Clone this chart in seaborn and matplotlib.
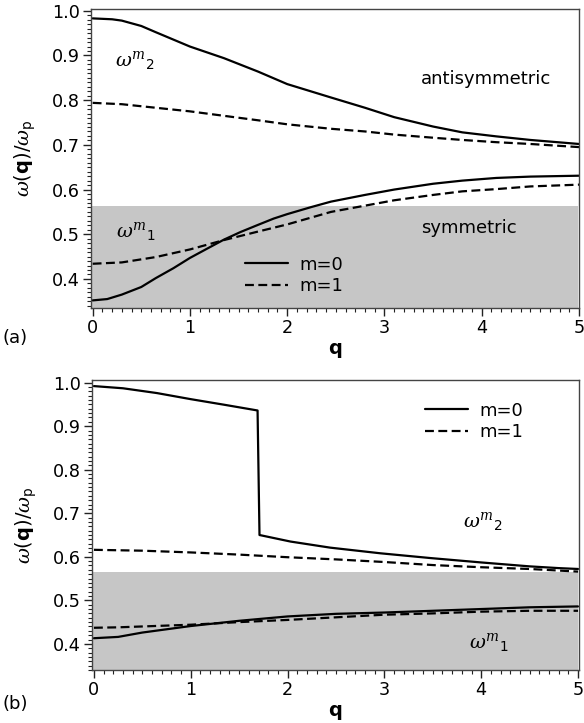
import numpy as np
import pandas as pd
import matplotlib
matplotlib.use("Agg")
import matplotlib.pyplot as plt
from matplotlib.ticker import MultipleLocator
from matplotlib.lines import Line2D
import seaborn as sns

# ---------------- data ----------------
# panel (a)
qa_u0 = [0.0, 0.2, 0.3, 0.5, 0.65, 1.0, 1.35, 1.7, 2.0, 2.45, 2.8, 3.1, 3.5, 3.8, 4.15, 4.5, 5.0]
a_upper_m0 = [0.983, 0.981, 0.978, 0.966, 0.952, 0.920, 0.894, 0.864, 0.836, 0.806, 0.783, 0.762, 0.741, 0.728, 0.719, 0.711, 0.702]
qa_u1 = [0.0, 0.3, 0.65, 1.0, 1.35, 1.7, 2.0, 2.45, 2.8, 3.1, 3.5, 3.8, 4.15, 4.5, 5.0]
a_upper_m1 = [0.794, 0.791, 0.783, 0.775, 0.765, 0.755, 0.746, 0.736, 0.730, 0.723, 0.716, 0.711, 0.706, 0.702, 0.695]
qa_l0 = [0.0, 0.15, 0.3, 0.5, 0.65, 0.83, 1.0, 1.17, 1.35, 1.52, 1.7, 1.86, 2.0, 2.25, 2.45, 2.8, 3.1, 3.5, 3.8, 4.15, 4.5, 5.0]
a_lower_m0 = [0.352, 0.355, 0.365, 0.382, 0.402, 0.424, 0.447, 0.467, 0.488, 0.505, 0.521, 0.535, 0.545, 0.561, 0.573, 0.588, 0.600, 0.613, 0.620, 0.626, 0.629, 0.631]
qa_l1 = [0.0, 0.3, 0.65, 1.0, 1.35, 1.7, 2.0, 2.45, 2.8, 3.1, 3.5, 3.8, 4.15, 4.5, 5.0]
a_lower_m1 = [0.434, 0.437, 0.449, 0.466, 0.487, 0.506, 0.522, 0.550, 0.564, 0.576, 0.588, 0.596, 0.601, 0.607, 0.611]

# panel (b)
qb_jump = [0.0, 0.3, 0.65, 1.0, 1.35, 1.69, 1.71, 2.03, 2.44, 2.96, 3.48, 4.0, 4.5, 4.8, 5.0]
b_upper_m0 = [0.992, 0.987, 0.976, 0.962, 0.949, 0.936, 0.650, 0.635, 0.621, 0.608, 0.597, 0.587, 0.578, 0.574, 0.572]
qb = [0.0, 0.25, 0.5, 1.0, 1.5, 2.0, 2.5, 3.0, 3.5, 4.0, 4.5, 5.0]
b_upper_m1 = [0.616, 0.615, 0.614, 0.610, 0.605, 0.599, 0.594, 0.588, 0.581, 0.576, 0.572, 0.566]
b_lower_m0 = [0.413, 0.416, 0.426, 0.441, 0.453, 0.463, 0.469, 0.472, 0.476, 0.480, 0.484, 0.486]
b_lower_m1 = [0.437, 0.438, 0.440, 0.444, 0.450, 0.455, 0.461, 0.467, 0.470, 0.474, 0.476, 0.476]

legend_labels = ["m=0", "m=1"]
xticks = [0, 1, 2, 3, 4, 5]
yticks = [0.4, 0.5, 0.6, 0.7, 0.8, 0.9, 1.0]
sym_limit_a = 0.563
sym_limit_b = 0.565

# ---------------- style ----------------
sns.set_theme(style="ticks")
plt.rcParams["font.family"] = ["DejaVu Sans"]
plt.rcParams["mathtext.fontset"] = "custom"
plt.rcParams["mathtext.rm"] = "DejaVu Sans"
plt.rcParams["mathtext.bf"] = "DejaVu Sans:bold"
plt.rcParams["mathtext.it"] = "DejaVu Serif:italic"
for k in ("text.color", "axes.labelcolor", "xtick.color", "ytick.color"):
    plt.rcParams[k] = "black"

FS = 13
LW = 1.6
DASH = (4, 2)

fig = plt.figure(figsize=(5.84, 7.23), dpi=100)
W, H = 584.0, 723.0
ax_a = fig.add_axes([90.7 / W, 1 - 308 / H, (579 - 90.7) / W, (308 - 9) / H])
ax_b = fig.add_axes([92 / W, 1 - 670 / H, (579 - 92) / W, (670 - 380) / H])


def draw(ax, q, y, dashed):
    df = pd.DataFrame({"q": q, "w": y})
    sns.lineplot(data=df, x="q", y="w", ax=ax, color="black", lw=LW,
                 sort=False, estimator=None, legend=False)
    ln = ax.lines[-1]
    ln.set_solid_joinstyle("round")
    if dashed:
        ln.set_linestyle((0, DASH))


def style_axes(ax, ylim, sym):
    ax.set_xlim(-0.02, 5.0)
    ax.set_ylim(*ylim)
    ax.axhspan(ylim[0] - 1, sym, xmin=0, xmax=0.997, color="#c6c6c6", zorder=0, lw=0)
    ax.set_xticks(xticks)
    ax.set_xticklabels([str(t) for t in xticks])
    ax.set_yticks(yticks)
    ax.set_yticklabels([f"{t:.1f}" for t in yticks])
    ax.xaxis.set_minor_locator(MultipleLocator(0.1))
    ax.yaxis.set_minor_locator(MultipleLocator(0.01))
    ax.tick_params(which="major", direction="out", length=6, width=1.0,
                   color="#222222", labelsize=FS - 0.3, pad=2,
                   bottom=True, left=True, top=False, right=False)
    ax.tick_params(which="minor", direction="out", length=3.2, width=0.8,
                   color="#222222", bottom=True, left=True, top=False, right=False)
    for s in ax.spines.values():
        s.set_visible(True)
        s.set_color("#444444")
        s.set_linewidth(1.0)
    ax.set_xlabel("q", fontsize=FS + 1, fontweight="bold", labelpad=1)
    ax.set_ylabel(r"$\omega(\mathbf{q})/\omega_{\mathrm{p}}$", fontsize=FS + 1, labelpad=10)


# panel (a)
draw(ax_a, qa_u0, a_upper_m0, False)
draw(ax_a, qa_u1, a_upper_m1, True)
draw(ax_a, qa_l0, a_lower_m0, False)
draw(ax_a, qa_l1, a_lower_m1, True)
style_axes(ax_a, (0.335, 1.004), sym_limit_a)

# panel (b)
draw(ax_b, qb_jump, b_upper_m0, False)
draw(ax_b, qb, b_upper_m1, True)
draw(ax_b, qb, b_lower_m0, False)
draw(ax_b, qb, b_lower_m1, True)
style_axes(ax_b, (0.340, 1.006), sym_limit_b)
ax_b.set_xlim(-0.02, 5.01)

handles = [Line2D([], [], color="black", lw=LW),
           Line2D([], [], color="black", lw=LW, linestyle=(0, DASH))]
for ax, anchor in ((ax_a, (0.316, 0.109)), (ax_b, (0.684, 0.857))):
    ax.legend(handles, legend_labels, loc="center left", bbox_to_anchor=anchor,
              frameon=False, fontsize=FS, handlelength=2.4, handletextpad=0.6,
              labelspacing=0.2, borderpad=0, borderaxespad=0)

# annotations
lab2 = r"$\omega^{m}{}_{2}$"
lab1 = r"$\omega^{m}{}_{1}$"
ax_a.text(0.23, 0.876, lab2, fontsize=FS + 1, va="baseline", ha="left")
ax_a.text(0.24, 0.494, lab1, fontsize=FS + 1, va="baseline", ha="left")
ax_a.text(4.04, 0.848, "antisymmetric", fontsize=FS, ha="center", va="center")
ax_a.text(3.87, 0.515, "symmetric", fontsize=FS, ha="center", va="center")
ax_b.text(3.81, 0.669, lab2, fontsize=FS + 1, va="baseline", ha="left")
ax_b.text(3.87, 0.391, lab1, fontsize=FS + 1, va="baseline", ha="left")

fig.text(2 / W, 1 - 338 / H, "(a)", fontsize=FS, ha="left", va="center")
fig.text(2 / W, 1 - 704 / H, "(b)", fontsize=FS, ha="left", va="center")

fig.savefig("out.png", dpi=100)
